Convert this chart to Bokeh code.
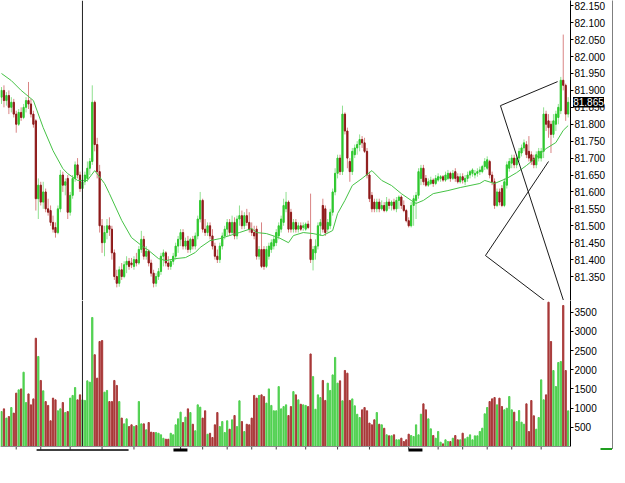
from bokeh.plotting import figure
from bokeh.layouts import column, row
from bokeh.core.properties import value
from bokeh.models import Range1d, FixedTicker, NumeralTickFormatter, Span
from bokeh.embed import file_html
from bokeh.resources import INLINE

# ---------------- data ----------------
open_ = [
    81.880, 81.900, 81.870, 81.885, 81.850, 81.865, 81.830, 81.800, 81.835, 81.820,
    81.850, 81.870, 81.860, 81.830, 81.810, 81.580, 81.620, 81.570, 81.600, 81.550,
    81.545, 81.510, 81.495, 81.480, 81.550, 81.650, 81.620, 81.640, 81.540, 81.590,
    81.640, 81.680, 81.650, 81.610, 81.630, 81.640, 81.670, 81.690, 81.865, 81.740,
    81.660,
    81.500, 81.450, 81.480, 81.500, 81.490, 81.420, 81.350, 81.330, 81.370, 81.350,
    81.385, 81.395, 81.390, 81.380, 81.400, 81.390, 81.430, 81.460, 81.410, 81.425,
    81.390, 81.360, 81.330, 81.350, 81.365, 81.410, 81.420, 81.390, 81.380, 81.395,
    81.410, 81.440, 81.460, 81.480, 81.440, 81.455, 81.430, 81.460, 81.440,
    81.470, 81.520, 81.575, 81.490, 81.480, 81.500, 81.470, 81.440, 81.410, 81.400,
    81.440, 81.470, 81.490, 81.510, 81.480, 81.510, 81.470, 81.520, 81.530, 81.500,
    81.530, 81.510, 81.490, 81.480, 81.490, 81.410, 81.430, 81.430, 81.380, 81.410,
    81.430, 81.440, 81.450, 81.470, 81.490, 81.510, 81.550, 81.570, 81.540,
    81.490, 81.510, 81.490, 81.500, 81.495, 81.490, 81.505, 81.460, 81.400, 81.420,
    81.440, 81.500, 81.560, 81.550, 81.490, 81.500, 81.540, 81.600, 81.655, 81.700,
    81.660, 81.830, 81.780, 81.690, 81.660, 81.710, 81.730, 81.740, 81.755, 81.745,
    81.720, 81.650, 81.590, 81.570, 81.550, 81.570, 81.550, 81.560, 81.545,
    81.570, 81.560, 81.570, 81.550, 81.575, 81.585, 81.560, 81.545, 81.515, 81.500,
    81.560, 81.575, 81.590, 81.640, 81.670, 81.640, 81.620, 81.625, 81.635, 81.625,
    81.635, 81.640, 81.645, 81.635, 81.640, 81.655, 81.640, 81.660, 81.645, 81.630,
    81.645, 81.630, 81.640, 81.650, 81.655, 81.650, 81.655, 81.660, 81.660,
    81.675, 81.670, 81.690, 81.650, 81.630, 81.560, 81.600, 81.610, 81.560, 81.620,
    81.670, 81.685, 81.700, 81.680, 81.700, 81.715, 81.730, 81.740, 81.720, 81.710,
    81.700, 81.680, 81.700, 81.700, 81.720, 81.830, 81.810, 81.800, 81.770, 81.800,
    81.820, 81.840, 81.930, 81.915, 81.830,
]
high = [
    81.910, 81.915, 81.895, 81.900, 81.880, 81.875, 81.840, 81.845, 81.850, 81.860,
    81.880, 81.925, 81.875, 81.840, 81.815, 81.640, 81.630, 81.630, 81.610, 81.580,
    81.560, 81.530, 81.510, 81.560, 81.665, 81.660, 81.640, 81.650, 81.600, 81.650,
    81.690, 81.700, 81.660, 81.640, 81.660, 81.690, 81.700, 81.915, 81.870, 81.760,
    81.680,
    81.520, 81.500, 81.520, 81.525, 81.500, 81.430, 81.370, 81.380, 81.390, 81.395,
    81.410, 81.405, 81.405, 81.410, 81.420, 81.440, 81.485, 81.470, 81.440, 81.430,
    81.400, 81.370, 81.360, 81.375, 81.420, 81.430, 81.425, 81.410, 81.400, 81.420,
    81.450, 81.470, 81.490, 81.490, 81.465, 81.470, 81.465, 81.470, 81.480,
    81.530, 81.600, 81.580, 81.520, 81.510, 81.510, 81.490, 81.450, 81.430, 81.450,
    81.480, 81.500, 81.520, 81.520, 81.530, 81.525, 81.530, 81.560, 81.545, 81.540,
    81.550, 81.540, 81.510, 81.500, 81.500, 81.440, 81.510, 81.440, 81.440, 81.450,
    81.460, 81.470, 81.490, 81.510, 81.530, 81.580, 81.600, 81.575, 81.550,
    81.520, 81.520, 81.510, 81.510, 81.510, 81.510, 81.515, 81.595, 81.440, 81.460,
    81.510, 81.520, 81.580, 81.560, 81.520, 81.550, 81.610, 81.670, 81.710, 81.710,
    81.855, 81.835, 81.790, 81.700, 81.730, 81.740, 81.750, 81.770, 81.765, 81.760,
    81.730, 81.660, 81.600, 81.580, 81.580, 81.580, 81.575, 81.570, 81.585,
    81.580, 81.575, 81.580, 81.585, 81.590, 81.590, 81.575, 81.550, 81.525, 81.570,
    81.590, 81.600, 81.670, 81.680, 81.680, 81.650, 81.640, 81.645, 81.640, 81.650,
    81.655, 81.650, 81.650, 81.660, 81.665, 81.660, 81.665, 81.670, 81.655, 81.655,
    81.655, 81.650, 81.660, 81.665, 81.670, 81.665, 81.670, 81.675, 81.680,
    81.700, 81.705, 81.695, 81.660, 81.640, 81.610, 81.610, 81.620, 81.640, 81.690,
    81.700, 81.710, 81.710, 81.710, 81.730, 81.740, 81.755, 81.750, 81.765, 81.720,
    81.710, 81.720, 81.730, 81.730, 81.850, 81.840, 81.830, 81.810, 81.830, 81.840,
    81.860, 81.940, 82.065, 81.920, 81.880,
]
low = [
    81.860, 81.850, 81.855, 81.830, 81.835, 81.820, 81.775, 81.795, 81.810, 81.815,
    81.835, 81.845, 81.820, 81.790, 81.545, 81.520, 81.560, 81.550, 81.540, 81.530,
    81.500, 81.480, 81.465, 81.475, 81.540, 81.600, 81.590, 81.520, 81.530, 81.580,
    81.630, 81.640, 81.600, 81.580, 81.620, 81.630, 81.650, 81.680, 81.720, 81.640,
    81.480,
    81.420, 81.410, 81.460, 81.470, 81.400, 81.340, 81.318, 81.320, 81.340, 81.345,
    81.360, 81.370, 81.375, 81.370, 81.380, 81.385, 81.420, 81.400, 81.400, 81.380,
    81.350, 81.318, 81.320, 81.340, 81.355, 81.380, 81.380, 81.370, 81.370, 81.385,
    81.400, 81.420, 81.440, 81.430, 81.430, 81.420, 81.420, 81.430, 81.430,
    81.460, 81.510, 81.480, 81.470, 81.470, 81.460, 81.430, 81.400, 81.390, 81.390,
    81.430, 81.460, 81.470, 81.470, 81.475, 81.460, 81.460, 81.500, 81.490, 81.490,
    81.500, 81.480, 81.470, 81.460, 81.400, 81.400, 81.375, 81.370, 81.375, 81.400,
    81.420, 81.430, 81.440, 81.460, 81.480, 81.500, 81.540, 81.480, 81.480,
    81.480, 81.480, 81.480, 81.485, 81.485, 81.485, 81.490, 81.390, 81.368, 81.400,
    81.430, 81.470, 81.480, 81.470, 81.480, 81.490, 81.530, 81.590, 81.640, 81.650,
    81.650, 81.770, 81.670, 81.630, 81.650, 81.700, 81.710, 81.720, 81.730, 81.715,
    81.640, 81.570, 81.540, 81.540, 81.540, 81.540, 81.545, 81.540, 81.540,
    81.550, 81.545, 81.545, 81.540, 81.550, 81.550, 81.540, 81.510, 81.495, 81.495,
    81.500, 81.520, 81.580, 81.620, 81.620, 81.615, 81.615, 81.620, 81.615, 81.620,
    81.630, 81.630, 81.630, 81.630, 81.635, 81.630, 81.635, 81.630, 81.625, 81.625,
    81.625, 81.620, 81.630, 81.640, 81.645, 81.640, 81.645, 81.650, 81.655,
    81.665, 81.665, 81.640, 81.620, 81.550, 81.555, 81.560, 81.555, 81.555, 81.610,
    81.660, 81.670, 81.670, 81.670, 81.690, 81.705, 81.720, 81.700, 81.690, 81.680,
    81.670, 81.670, 81.690, 81.690, 81.700, 81.780, 81.760, 81.715, 81.760, 81.780,
    81.800, 81.830, 81.900, 81.810, 81.820,
]
close = [
    81.900, 81.870, 81.885, 81.850, 81.865, 81.830, 81.800, 81.835, 81.820, 81.850,
    81.870, 81.860, 81.830, 81.800, 81.580, 81.620, 81.570, 81.600, 81.550, 81.540,
    81.510, 81.490, 81.480, 81.550, 81.650, 81.620, 81.630, 81.540, 81.590, 81.640,
    81.680, 81.650, 81.610, 81.630, 81.650, 81.670, 81.690, 81.865, 81.740, 81.660,
    81.500,
    81.450, 81.480, 81.500, 81.490, 81.420, 81.350, 81.330, 81.370, 81.350, 81.385,
    81.395, 81.380, 81.385, 81.400, 81.390, 81.430, 81.460, 81.410, 81.425, 81.390,
    81.360, 81.330, 81.350, 81.365, 81.410, 81.420, 81.390, 81.380, 81.395, 81.410,
    81.440, 81.460, 81.480, 81.440, 81.455, 81.430, 81.460, 81.440, 81.470,
    81.520, 81.575, 81.490, 81.480, 81.500, 81.470, 81.440, 81.410, 81.400, 81.440,
    81.470, 81.490, 81.510, 81.480, 81.510, 81.470, 81.520, 81.530, 81.500, 81.530,
    81.510, 81.490, 81.480, 81.470, 81.410, 81.430, 81.380, 81.380, 81.430, 81.440,
    81.450, 81.460, 81.480, 81.500, 81.520, 81.560, 81.570, 81.490, 81.490,
    81.510, 81.490, 81.500, 81.490, 81.500, 81.505, 81.495, 81.400, 81.430, 81.440,
    81.500, 81.510, 81.490, 81.480, 81.510, 81.540, 81.600, 81.655, 81.700, 81.660,
    81.830, 81.780, 81.700, 81.660, 81.720, 81.730, 81.740, 81.755, 81.745, 81.720,
    81.650, 81.580, 81.550, 81.550, 81.570, 81.550, 81.560, 81.545, 81.570,
    81.560, 81.570, 81.550, 81.575, 81.585, 81.560, 81.545, 81.515, 81.500, 81.560,
    81.580, 81.590, 81.660, 81.670, 81.630, 81.620, 81.630, 81.635, 81.625, 81.640,
    81.645, 81.645, 81.635, 81.650, 81.655, 81.640, 81.655, 81.640, 81.630, 81.645,
    81.635, 81.640, 81.650, 81.660, 81.665, 81.655, 81.660, 81.665, 81.675,
    81.690, 81.695, 81.650, 81.630, 81.560, 81.600, 81.570, 81.560, 81.630, 81.680,
    81.690, 81.700, 81.680, 81.700, 81.720, 81.730, 81.745, 81.710, 81.700, 81.690,
    81.680, 81.710, 81.720, 81.720, 81.830, 81.800, 81.790, 81.770, 81.810, 81.830,
    81.850, 81.930, 81.915, 81.830, 81.865,
]
volume = [
    911, 980, 740, 780, 1015, 870, 1390, 1475, 1500, 1935, 1145, 1370, 1085, 1240, 2820,
    2345, 1720, 1450, 1170, 1070, 670, 1260, 1215, 930, 980, 1145, 885, 910, 1260, 1330,
    1535, 1215, 1345, 1215, 1200, 1710, 1675, 3360, 2390, 1780, 2735, 2760, 1415, 1460,
    1170, 1170, 1720, 1590, 1170, 740, 590, 720, 520, 565, 520, 545, 1170, 590, 590, 435,
    625, 375, 365, 365, 345, 305, 215, 190, 190, 345, 305, 565, 720, 895, 625, 765, 980,
    885, 580, 410, 1085, 1025, 740, 930, 320, 345,
    235, 565, 885, 520, 650, 365, 670, 450, 695, 807, 520, 1190, 650, 390, 580, 565, 740,
    1330, 1260, 1330, 1345, 1300, 1130, 1500, 1070, 930, 930, 1560, 980, 1040, 1085, 807,
    1040, 1430, 1345, 1215, 1100, 1085, 1070, 1040, 2410, 1820, 970, 1345, 1275, 1720,
    1200, 1650, 1460, 1865, 2320, 1650, 1710, 1190, 1980, 1910, 1200, 1240, 1060, 840,
    755, 955, 1015, 930, 610, 565, 695, 885, 580, 565, 475, 305, 280, 280, 305, 175, 175,
    217, 130, 174, 321, 286, 260, 564, 304, 842, 1111, 955, 720, 460, 286, 217, 391, 113,
    69, 174, 130, 130, 217, 286, 174, 174, 347, 200, 243, 304, 174, 278, 278, 391, 477,
    851, 1016, 1172, 1241, 1276, 1085, 1259, 1042, 955, 998, 1302, 955, 894, 651, 937,
    634, 582, 1111, 391, 1198, 799, 451, 755, 1736, 1215, 1345, 3758, 2734, 1979, 1562,
    2187, 2213, 3672, 1979, 929,
]
ma_bar = [0, 4, 8, 12, 13, 17, 21, 25, 27, 31, 35, 38, 42, 44, 49, 53, 57, 60, 64, 67,
          71, 75, 79, 81, 85, 89, 93, 97, 102, 104, 108, 113, 117, 119, 123, 127, 131,
          135, 137, 140, 143, 147, 151, 155, 159, 163, 167, 169, 172, 176, 182, 187, 191,
          195, 197, 201, 206, 210, 214, 218, 222, 226, 229, 231]
ma_value = [81.950, 81.929, 81.900, 81.876, 81.870, 81.790, 81.722, 81.669, 81.654, 81.634,
            81.634, 81.663, 81.625, 81.595, 81.516, 81.465, 81.442, 81.427, 81.403, 81.397,
            81.403, 81.406, 81.421, 81.436, 81.456, 81.462, 81.471, 81.480, 81.492, 81.480,
            81.477, 81.465, 81.450, 81.471, 81.480, 81.477, 81.471, 81.486, 81.536, 81.575,
            81.619, 81.640, 81.663, 81.634, 81.619, 81.595, 81.575, 81.566, 81.575, 81.595,
            81.604, 81.613, 81.619, 81.625, 81.634, 81.625, 81.640, 81.657, 81.678, 81.702,
            81.728, 81.746, 81.782, 81.796]

price_ticks = [81.35, 81.40, 81.45, 81.50, 81.55, 81.60, 81.65, 81.70, 81.75, 81.80,
               81.85, 81.90, 81.95, 82.00, 82.05, 82.10, 82.15]
volume_ticks = [500, 1000, 1500, 2000, 2500, 3000, 3500]
time_ticks = [6, 16, 28, 41, 54, 73, 82, 92, 102, 112, 124, 137, 150, 166, 178, 188, 198, 208, 220]
last_price = 81.865
last_price_text = "81.865"
marker_bar = 33
zigzag1_x = [226.7, 203.4, 230.4]
zigzag1_y = [81.926, 81.855, 81.250]
zigzag2_x = [223.0, 197.3, 226.7]
zigzag2_y = [81.690, 81.412, 81.250]
# dark strips under the time axis
strip_start = [14.3, 70.1, 165.9]
strip_end = [51.8, 75.8, 171.6]

# ---------------- derived drawing columns ----------------
n = len(close)
xs = list(range(n))
up = [c >= o for o, c in zip(open_, close)]
body_top = [max(o, c) for o, c in zip(open_, close)]
body_bot = [min(o, c) for o, c in zip(open_, close)]
body_col = ["#2ec82e" if u else "#8e1a1a" for u in up]
wick_col = ["#8fe08f" if u else "#d98484" for u in up]
vol_col = ["#4fd04f" if u else "#a83838" for u in up]

FONT = "Liberation Sans"
X0, X1 = -0.41, 231.96
FRAME_W = 570
BAR_PX = FRAME_W / (X1 - X0)          # pixels per bar
P0, P1 = 81.2792, 82.1657
PRICE_PX = 300 / (P1 - P0)            # pixels per price unit
x_range = Range1d(X0, X1)
VOL_TOP = 3802
VOL_BOTTOM = -156
PX_VOL = VOL_TOP / 146.0              # volume units per pixel

# ---------------- price panel ----------------
p1 = figure(frame_width=FRAME_W, frame_height=300, x_range=x_range,
            y_range=Range1d(P0, P1), title=None,
            x_axis_location=None, y_axis_location="right",
            toolbar_location=None, output_backend="svg",
            min_border_left=0, min_border_top=0, min_border_bottom=0, min_border_right=42)
p1.outline_line_color = None
p1.grid.visible = False
p1.background_fill_color = "white"
p1.border_fill_color = "white"
ya = p1.yaxis[0]
ya.ticker = FixedTicker(ticks=price_ticks)
ya.formatter = NumeralTickFormatter(format="0.000")
ya.major_tick_out = 3
ya.major_tick_in = 0
ya.minor_tick_out = 0
ya.minor_tick_in = 0
ya.major_label_standoff = 1
ya.major_label_text_font = FONT
ya.major_label_text_font_size = "10px"
ya.major_label_text_color = "black"
ya.axis_line_color = "black"

p1.segment(x0=xs, y0=low, x1=xs, y1=high, line_color=wick_col, line_width=1)
p1.vbar(x=xs, width=0.5, top=body_top, bottom=body_bot, fill_color=body_col,
        line_color=body_col, line_width=1)
p1.line(ma_bar, ma_value, line_color="#45c245", line_width=1)
p1.line(zigzag1_x, zigzag1_y, line_color="#1a1a1a", line_width=1)
p1.line(zigzag2_x, zigzag2_y, line_color="#1a1a1a", line_width=1)
p1.add_layout(Span(location=marker_bar, dimension="height", line_color="#222222", line_width=1))
# current-price tag on the price scale (drawn above the axis, outside the frame)
p1.rect(x=[X1 + 18 / BAR_PX], y=[last_price], width=31 / BAR_PX, height=10.5 / PRICE_PX,
        fill_color="black", line_color=None, level="overlay")
p1.text(x=[X1 + 2.7 / BAR_PX], y=[last_price], text=[last_price_text],
        text_color="white", text_font=value(FONT), text_font_size="10px",
        text_align="left", text_baseline="middle", level="overlay")

# ---------------- volume panel ----------------
p2 = figure(frame_width=FRAME_W, frame_height=152, x_range=x_range,
            y_range=Range1d(VOL_BOTTOM, VOL_TOP), title=None,
            x_axis_location=None, y_axis_location="right",
            toolbar_location=None, output_backend="svg",
            min_border_left=0, min_border_top=0, min_border_bottom=0, min_border_right=42)
p2.outline_line_color = None
p2.grid.visible = False
p2.background_fill_color = "white"
p2.border_fill_color = "white"
va = p2.yaxis[0]
va.ticker = FixedTicker(ticks=volume_ticks)
va.formatter = NumeralTickFormatter(format="0")
va.bounds = (0, VOL_TOP)
va.major_tick_out = 3
va.major_tick_in = 0
va.minor_tick_out = 0
va.minor_tick_in = 0
va.major_label_standoff = 1
va.major_label_text_font = FONT
va.major_label_text_font_size = "10px"
va.major_label_text_color = "black"
va.axis_line_color = "black"

p2.vbar(x=xs, width=0.5, top=volume, bottom=0, fill_color=vol_col,
        line_color=vol_col, line_width=1)
# time axis baseline and its tick marks
p2.add_layout(Span(location=0, dimension="width", line_color="#8c8c8c", line_width=1))
p2.segment(x0=time_ticks, y0=[0] * len(time_ticks), x1=time_ticks,
           y1=[-3 * PX_VOL] * len(time_ticks), line_color="#444444", line_width=1)
p2.segment(x0=strip_start[:1], y0=[-3.5 * PX_VOL], x1=strip_end[:1], y1=[-3.5 * PX_VOL],
           line_color="black", line_width=1.5)
p2.segment(x0=strip_start[1:], y0=[-3.5 * PX_VOL] * 2, x1=strip_end[1:], y1=[-3.5 * PX_VOL] * 2,
           line_color="black", line_width=3)
p2.segment(x0=[marker_bar], y0=[0], x1=[marker_bar], y1=[VOL_TOP],
           line_color="#222222", line_width=1)
# small green marker at the lower right corner of the window
p2.segment(x0=[X1 + 30 / BAR_PX], y0=[-2.5 * PX_VOL], x1=[X1 + 42 / BAR_PX], y1=[-2.5 * PX_VOL],
           line_color="#1f9e1f", line_width=2, level="overlay")

# thin right border line of the chart window
edge = figure(width=1, height=449, x_range=Range1d(0, 1), y_range=Range1d(0, 1),
              x_axis_location=None, y_axis_location=None, title=None,
              toolbar_location=None, output_backend="svg",
              min_border=0, background_fill_color="black", border_fill_color="black")
edge.outline_line_color = None
edge.grid.visible = False

layout = row(column(p1, p2, spacing=0), edge, spacing=0)

open("out.html", "w").write(file_html(layout, INLINE))
